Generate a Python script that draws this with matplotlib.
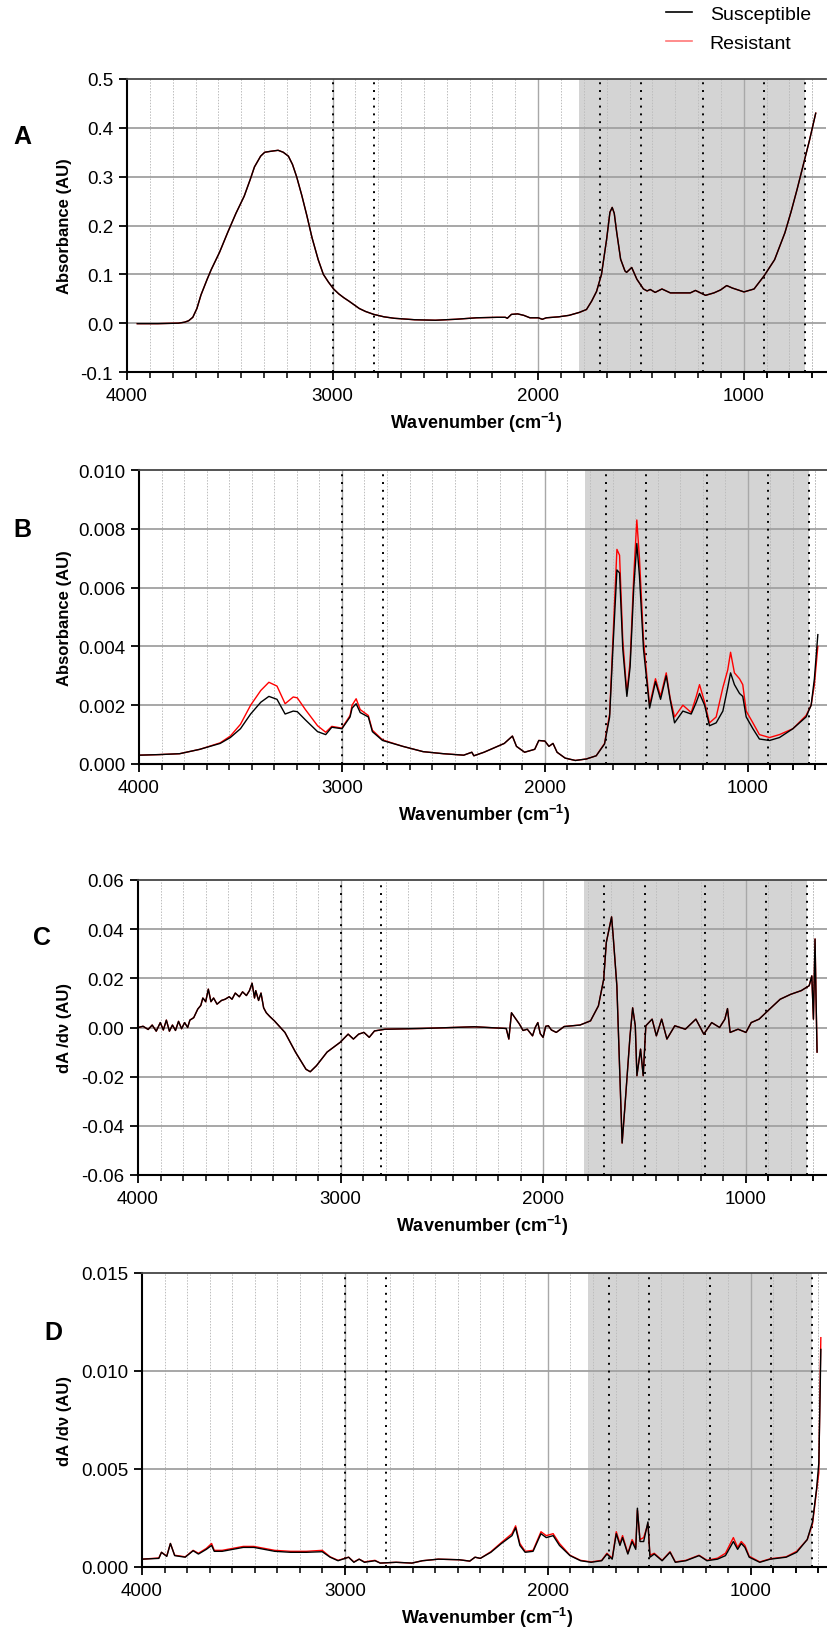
import matplotlib
matplotlib.use("Agg")
import matplotlib.pyplot as plt
from matplotlib.lines import Line2D
from matplotlib.ticker import FixedLocator, FormatStrFormatter

plt.rcParams["font.family"] = ["Liberation Sans", "DejaVu Sans"]
plt.rcParams["mathtext.default"] = "regular"

# ---- data ---------------------------------------------------------------
# Panel A: absorbance (the red trace sits right under the black one)
wn_A = [3950, 3850, 3750, 3720, 3700, 3680, 3660, 3640, 3610, 3590,
        3550, 3510, 3470, 3430, 3400, 3380, 3350, 3330, 3300, 3265,
        3240, 3215, 3195, 3175, 3150, 3125, 3100, 3070, 3045, 3020,
        2995, 2970, 2945, 2920, 2890, 2870, 2840, 2800, 2750, 2700,
        2600, 2500, 2400, 2300, 2200, 2160, 2150, 2130, 2100, 2070,
        2040, 2000, 1980, 1960, 1900, 1850, 1800, 1765, 1740, 1716,
        1692, 1667, 1651, 1640, 1630, 1618, 1599, 1578, 1570, 1545,
        1520, 1488, 1470, 1455, 1431, 1398, 1357, 1260, 1235, 1186,
        1145, 1113, 1083, 1056, 999, 950, 901, 850, 800, 770,
        740, 710, 680, 650]
abs_A_sus = [-0.001, -0.001, 0.000, 0.002, 0.005, 0.012, 0.030, 0.058, 0.090, 0.110,
             0.145, 0.186, 0.225, 0.260, 0.295, 0.320, 0.342, 0.350, 0.352, 0.354,
             0.350, 0.342, 0.325, 0.300, 0.262, 0.220, 0.175, 0.130, 0.100, 0.084,
             0.070, 0.060, 0.052, 0.045, 0.036, 0.030, 0.024, 0.018, 0.013, 0.010,
             0.007, 0.006, 0.008, 0.011, 0.012, 0.012, 0.010, 0.018, 0.019, 0.016,
             0.011, 0.011, 0.008, 0.011, 0.013, 0.016, 0.022, 0.028, 0.045, 0.065,
             0.100, 0.172, 0.227, 0.237, 0.225, 0.186, 0.131, 0.107, 0.104, 0.114,
             0.090, 0.070, 0.066, 0.069, 0.063, 0.070, 0.062, 0.062, 0.067, 0.057,
             0.062, 0.068, 0.077, 0.072, 0.064, 0.070, 0.097, 0.130, 0.185, 0.228,
             0.275, 0.325, 0.375, 0.430]
abs_A_res = abs_A_sus[:]

# Panel B: absorbance
wn_B = [4000, 3900, 3800, 3700, 3600, 3550, 3500, 3450, 3400, 3360,
        3320, 3280, 3240, 3220, 3180, 3120, 3080, 3050, 3000, 2960,
        2950, 2930, 2910, 2870, 2850, 2800, 2700, 2600, 2500, 2400,
        2360, 2350, 2300, 2200, 2160, 2140, 2100, 2050, 2030, 2000,
        1980, 1960, 1940, 1900, 1850, 1796, 1747, 1706, 1681, 1665,
        1645, 1632, 1616, 1596, 1580, 1562, 1547, 1534, 1514, 1484,
        1455, 1430, 1402, 1383, 1361, 1320, 1279, 1254, 1238, 1213,
        1189, 1156, 1123, 1099, 1085, 1066, 1041, 1025, 1008, 975,
        943, 893, 844, 778, 713, 688, 672, 655]
abs_B_sus = [0.00030, 0.00032, 0.00035, 0.00050, 0.00070, 0.00090, 0.00120, 0.00170, 0.00210, 0.00230,
             0.00220, 0.00170, 0.00180, 0.00178, 0.00150, 0.00110, 0.00100, 0.00125, 0.00120, 0.00160,
             0.00190, 0.00205, 0.00175, 0.00160, 0.00110, 0.00080, 0.00060, 0.00042, 0.00035, 0.00030,
             0.00040, 0.00028, 0.00040, 0.00070, 0.00095, 0.00060, 0.00040, 0.00050, 0.00080, 0.00078,
             0.00060, 0.00070, 0.00040, 0.00020, 0.00012, 0.00017, 0.00028, 0.00068, 0.00160, 0.00390,
             0.00660, 0.00650, 0.00390, 0.00230, 0.00330, 0.00600, 0.00750, 0.00640, 0.00390, 0.00190,
             0.00280, 0.00220, 0.00300, 0.00220, 0.00140, 0.00180, 0.00170, 0.00210, 0.00240, 0.00200,
             0.00130, 0.00140, 0.00180, 0.00260, 0.00310, 0.00270, 0.00240, 0.00230, 0.00160, 0.00120,
             0.00085, 0.00080, 0.00090, 0.00120, 0.00160, 0.00200, 0.00290, 0.00440]
abs_B_res = [0.00030, 0.00032, 0.00035, 0.00050, 0.00072, 0.00095, 0.00135, 0.00200, 0.00250, 0.00278,
             0.00265, 0.00205, 0.00228, 0.00225, 0.00185, 0.00130, 0.00108, 0.00128, 0.00122, 0.00165,
             0.00200, 0.00222, 0.00185, 0.00165, 0.00115, 0.00082, 0.00060, 0.00042, 0.00035, 0.00030,
             0.00040, 0.00028, 0.00040, 0.00070, 0.00095, 0.00060, 0.00040, 0.00050, 0.00080, 0.00078,
             0.00060, 0.00070, 0.00040, 0.00020, 0.00012, 0.00017, 0.00028, 0.00070, 0.00170, 0.00420,
             0.00730, 0.00710, 0.00420, 0.00240, 0.00350, 0.00640, 0.00830, 0.00700, 0.00420, 0.00200,
             0.00290, 0.00230, 0.00310, 0.00225, 0.00160, 0.00200, 0.00175, 0.00230, 0.00270, 0.00210,
             0.00140, 0.00160, 0.00260, 0.00320, 0.00380, 0.00310, 0.00290, 0.00270, 0.00180, 0.00140,
             0.00100, 0.00090, 0.00100, 0.00120, 0.00165, 0.00200, 0.00270, 0.00400]

# Panel C: first derivative of A (red hidden under black)
wn_C = [4000, 3975, 3950, 3930, 3910, 3890, 3875, 3860, 3845, 3830,
        3815, 3800, 3785, 3770, 3755, 3744, 3725, 3705, 3690, 3680,
        3666, 3653, 3640, 3627, 3610, 3588, 3570, 3550, 3536, 3520,
        3500, 3484, 3465, 3450, 3437, 3425, 3419, 3405, 3393, 3380,
        3367, 3350, 3327,
        3275, 3223, 3171, 3150, 3119, 3067, 3002, 2963, 2937, 2911,
        2885, 2859, 2833, 2781, 2599, 2339, 2183, 2170, 2157, 2118,
        2100, 2079, 2053, 2040, 2027, 2015, 2001, 1988, 1975, 1960,
        1936, 1897, 1819, 1767,
        1728, 1702, 1689, 1663, 1655, 1637, 1616, 1611, 1598, 1572,
        1559, 1546, 1538, 1520, 1507, 1494, 1463, 1442, 1416, 1390,
        1351, 1299, 1247, 1208, 1169, 1130, 1104, 1091, 1078, 1039,
        1000, 974, 935, 883, 831, 779, 727, 688, 675, 667,
        659, 654, 649]
der_C_sus = [0.0, 0.0005, -0.0008, 0.001, -0.0015, 0.002, -0.001, 0.003, -0.0015, 0.001,
             -0.0012, 0.0025, -0.0005, 0.002, 0.0, 0.003, 0.004, 0.0075, 0.009, 0.012,
             0.0105, 0.0156, 0.0105, 0.012, 0.0095, 0.011, 0.0115, 0.0125, 0.0115, 0.014,
             0.0125, 0.0145, 0.013, 0.015, 0.018, 0.012, 0.015, 0.011, 0.014, 0.008,
             0.006, 0.0045, 0.0027,
             -0.002, -0.010, -0.017, -0.018, -0.0155, -0.010, -0.006, -0.0027, -0.0047, -0.0027,
             -0.002, -0.004, -0.0014, -0.0007, -0.0004, 0.0003, -0.0004, -0.0047, 0.006, 0.0014,
             -0.0012, -0.0007, -0.0034, 0.0, 0.002, -0.0025, -0.004, 0.0005, 0.0007, -0.001,
             -0.002, 0.0004, 0.001, 0.0027,
             0.0088, 0.0196, 0.0346, 0.045, 0.037, 0.017, -0.0346, -0.047, -0.033, -0.0034,
             0.008, 0.0007, -0.0196, -0.0088, -0.0196, 0.0007, 0.0034, -0.0034, 0.0034, -0.0047,
             0.0007, -0.0007, 0.0034, -0.0027, 0.002, 0.0, 0.0034, 0.0077, -0.002, -0.0007,
             -0.002, 0.002, 0.0034, 0.0075, 0.0115, 0.0135, 0.015, 0.017, 0.021, 0.0034,
             0.036, 0.0115, -0.010]
der_C_res = der_C_sus[:]

# Panel D: first derivative of B
wn_D = [4000, 3917, 3904, 3878, 3860, 3839, 3787, 3748, 3722, 3683,
        3657, 3644, 3605, 3553, 3501, 3449, 3397, 3346, 3268, 3190,
        3112, 3073, 3034, 2982, 2956, 2930, 2904, 2852, 2826, 2748,
        2670, 2618, 2540, 2437, 2385, 2359, 2333, 2281, 2229, 2177,
        2159, 2138, 2112, 2073, 2034, 2008, 1974, 1943, 1891, 1839,
        1787, 1735, 1709, 1683, 1663, 1645, 1632, 1606, 1585, 1567,
        1559, 1546, 1528, 1507, 1497, 1476, 1437, 1398, 1372, 1320,
        1255, 1216, 1164, 1125, 1086, 1065, 1047, 1029, 1008, 956,
        904, 826, 774, 722, 696, 676, 665, 660, 655]
der_D_sus = [0.0004, 0.00044, 0.00075, 0.00054, 0.0012, 0.00058, 0.0005, 0.00083, 0.00066, 0.0009,
             0.0011, 0.0008, 0.0008, 0.0009, 0.001, 0.001, 0.0009, 0.0008, 0.00075, 0.00075,
             0.00078, 0.0005, 0.00032, 0.0005, 0.00024, 0.0004, 0.00024, 0.00032, 0.0002, 0.00024,
             0.0002, 0.00032, 0.0004, 0.00037, 0.0003, 0.0005, 0.00044, 0.00075, 0.0012, 0.0016,
             0.002, 0.0011, 0.00075, 0.0008, 0.0017, 0.0015, 0.0016, 0.0011, 0.00058, 0.00032,
             0.00024, 0.00032, 0.00066, 0.0004, 0.0017, 0.0011, 0.0015, 0.00066, 0.0013, 0.0009,
             0.003, 0.0013, 0.0013, 0.0023, 0.0005, 0.00066, 0.00032, 0.00075, 0.00024, 0.00032,
             0.00058, 0.00032, 0.0004, 0.00058, 0.0013, 0.0009, 0.0012, 0.001, 0.0005, 0.00024,
             0.0004, 0.0005, 0.00075, 0.0014, 0.0023, 0.004, 0.0053, 0.008, 0.0111]
der_D_res = [0.0004, 0.00046, 0.00075, 0.00056, 0.0012, 0.0006, 0.00052, 0.00085, 0.0007, 0.00095,
             0.0012, 0.00085, 0.00085, 0.00095, 0.00105, 0.00105, 0.00095, 0.00085, 0.0008, 0.0008,
             0.00085, 0.00052, 0.00034, 0.0005, 0.00026, 0.0004, 0.00026, 0.00034, 0.0002, 0.00024,
             0.0002, 0.00032, 0.0004, 0.00037, 0.0003, 0.0005, 0.00044, 0.00078, 0.00125, 0.0017,
             0.0021, 0.0012, 0.0008, 0.00085, 0.0018, 0.0016, 0.0017, 0.0012, 0.0006, 0.00034,
             0.00026, 0.00034, 0.0007, 0.00045, 0.0018, 0.0012, 0.0016, 0.0007, 0.0014, 0.0010,
             0.0029, 0.0014, 0.0015, 0.0022, 0.0006, 0.0007, 0.00034, 0.00078, 0.00026, 0.00034,
             0.0006, 0.00034, 0.00045, 0.0007, 0.0015, 0.0010, 0.0013, 0.0011, 0.00055, 0.00026,
             0.00042, 0.00052, 0.0008, 0.0014, 0.0022, 0.0039, 0.0048, 0.0085, 0.0117]

# reference lines / shaded band (cm-1)
marker_wn = [3000, 2800, 1700, 1500, 1200, 900, 700]
band = (1800, 700)
major_x = [4000, 3000, 2000, 1000]
# Prism-style minor ticks: 8 between majors
minor_x = [m - k * 1000 / 9 for m in major_x for k in range(1, 9)] + [1000 - k * 1000 / 9 for k in range(1, 4)]

# ---- figure ---------------------------------------------------------------
W, H = 827, 1633
fig = plt.figure(figsize=(W / 100, H / 100), dpi=100)

panels = [
    dict(letter="A", box=(127, 80, 826, 373), lpos=(22, 137), x=wn_A, s=abs_A_sus, r=abs_A_res,
         yt=[-0.1, 0.0, 0.1, 0.2, 0.3, 0.4, 0.5], fmt="%.1f", ylabel="Absorbance (AU)"),
    dict(letter="B", box=(139, 471, 829, 765), lpos=(22, 530), x=wn_B, s=abs_B_sus, r=abs_B_res,
         yt=[0.0, 0.002, 0.004, 0.006, 0.008, 0.010], fmt="%.3f", ylabel="Absorbance (AU)"),
    dict(letter="C", box=(138, 881, 827, 1176), lpos=(42, 938), x=wn_C, s=der_C_sus, r=der_C_res,
         yt=[-0.06, -0.04, -0.02, 0.0, 0.02, 0.04, 0.06], fmt="%.2f", ylabel="dA /d\u03bd (AU)"),
    dict(letter="D", box=(142, 1274, 832, 1568), lpos=(53, 1333), x=wn_D, s=der_D_sus, r=der_D_res,
         yt=[0.0, 0.005, 0.010, 0.015], fmt="%.3f", ylabel="dA /d\u03bd (AU)"),
]

for p in panels:
    l, t, r, b = p["box"]
    ax = fig.add_axes([l / W, 1 - b / H, (r - l) / W, (b - t) / H])
    yt = p["yt"]
    ax.set_xlim(4000, 600)
    ax.set_ylim(yt[0], yt[-1])

    ax.axvspan(*band, color="#d4d4d4", lw=0, zorder=0.1)
    for xm in minor_x:
        ax.axvline(xm, color="#bdbdbd", lw=0.7, ls=(0, (1.5, 1.5)), zorder=0.3)
    for xm in major_x[1:]:
        ax.axvline(xm, color="#a8a8a8", lw=1.0, zorder=0.4)
    for yv in yt[1:-1]:
        ax.axhline(yv, color="#a0a0a0", lw=1.3, zorder=0.4)
    for xm in marker_wn:
        ax.axvline(xm, color="black", lw=1.4, ls=(0, (1, 3)), zorder=0.6)

    ax.plot(p["x"], p["r"], color="#ff0000", lw=1.0, zorder=2)
    ax.plot(p["x"], p["s"], color="black", lw=1.0, zorder=3)

    ax.set_xticks(major_x)
    ax.xaxis.set_minor_locator(FixedLocator(minor_x))
    ax.set_yticks(yt)
    ax.yaxis.set_major_formatter(FormatStrFormatter(p["fmt"]))
    ax.tick_params(axis="x", which="major", length=6, width=1.3, pad=5, labelsize=13.5)
    ax.tick_params(axis="x", which="minor", length=4, width=1.1)
    ax.tick_params(axis="y", which="major", length=6, width=1.3, pad=4, labelsize=13.5)

    for side in ("left", "bottom"):
        ax.spines[side].set_linewidth(1.5)
        ax.spines[side].set_color("black")
    ax.spines["right"].set_visible(False)
    ax.spines["top"].set_color("#454545")
    ax.spines["top"].set_linewidth(1.3)

    ax.set_xlabel("Wavenumber (cm$^{-1}$)", fontsize=13, fontweight="bold", labelpad=4)
    ax.set_ylabel(p["ylabel"], fontsize=12, fontweight="bold")
    ax.yaxis.set_label_coords((72 - l) / (r - l), 0.5)

    fig.text(p["lpos"][0] / W, 1 - p["lpos"][1] / H, p["letter"], fontsize=18,
             fontweight="bold", ha="center", va="center")

handles = [Line2D([], [], color="black", lw=1.2), Line2D([], [], color="#ff7878", lw=1.2)]
fig.legend(handles, ["Susceptible", "Resistant"], loc="upper left",
           bbox_to_anchor=(666 / W, 1 - 6 / H), frameon=False, fontsize=14,
           handlelength=1.35, handletextpad=0.9, labelspacing=0.6,
           borderpad=0, borderaxespad=0)

fig.savefig("out.png", dpi=100)
